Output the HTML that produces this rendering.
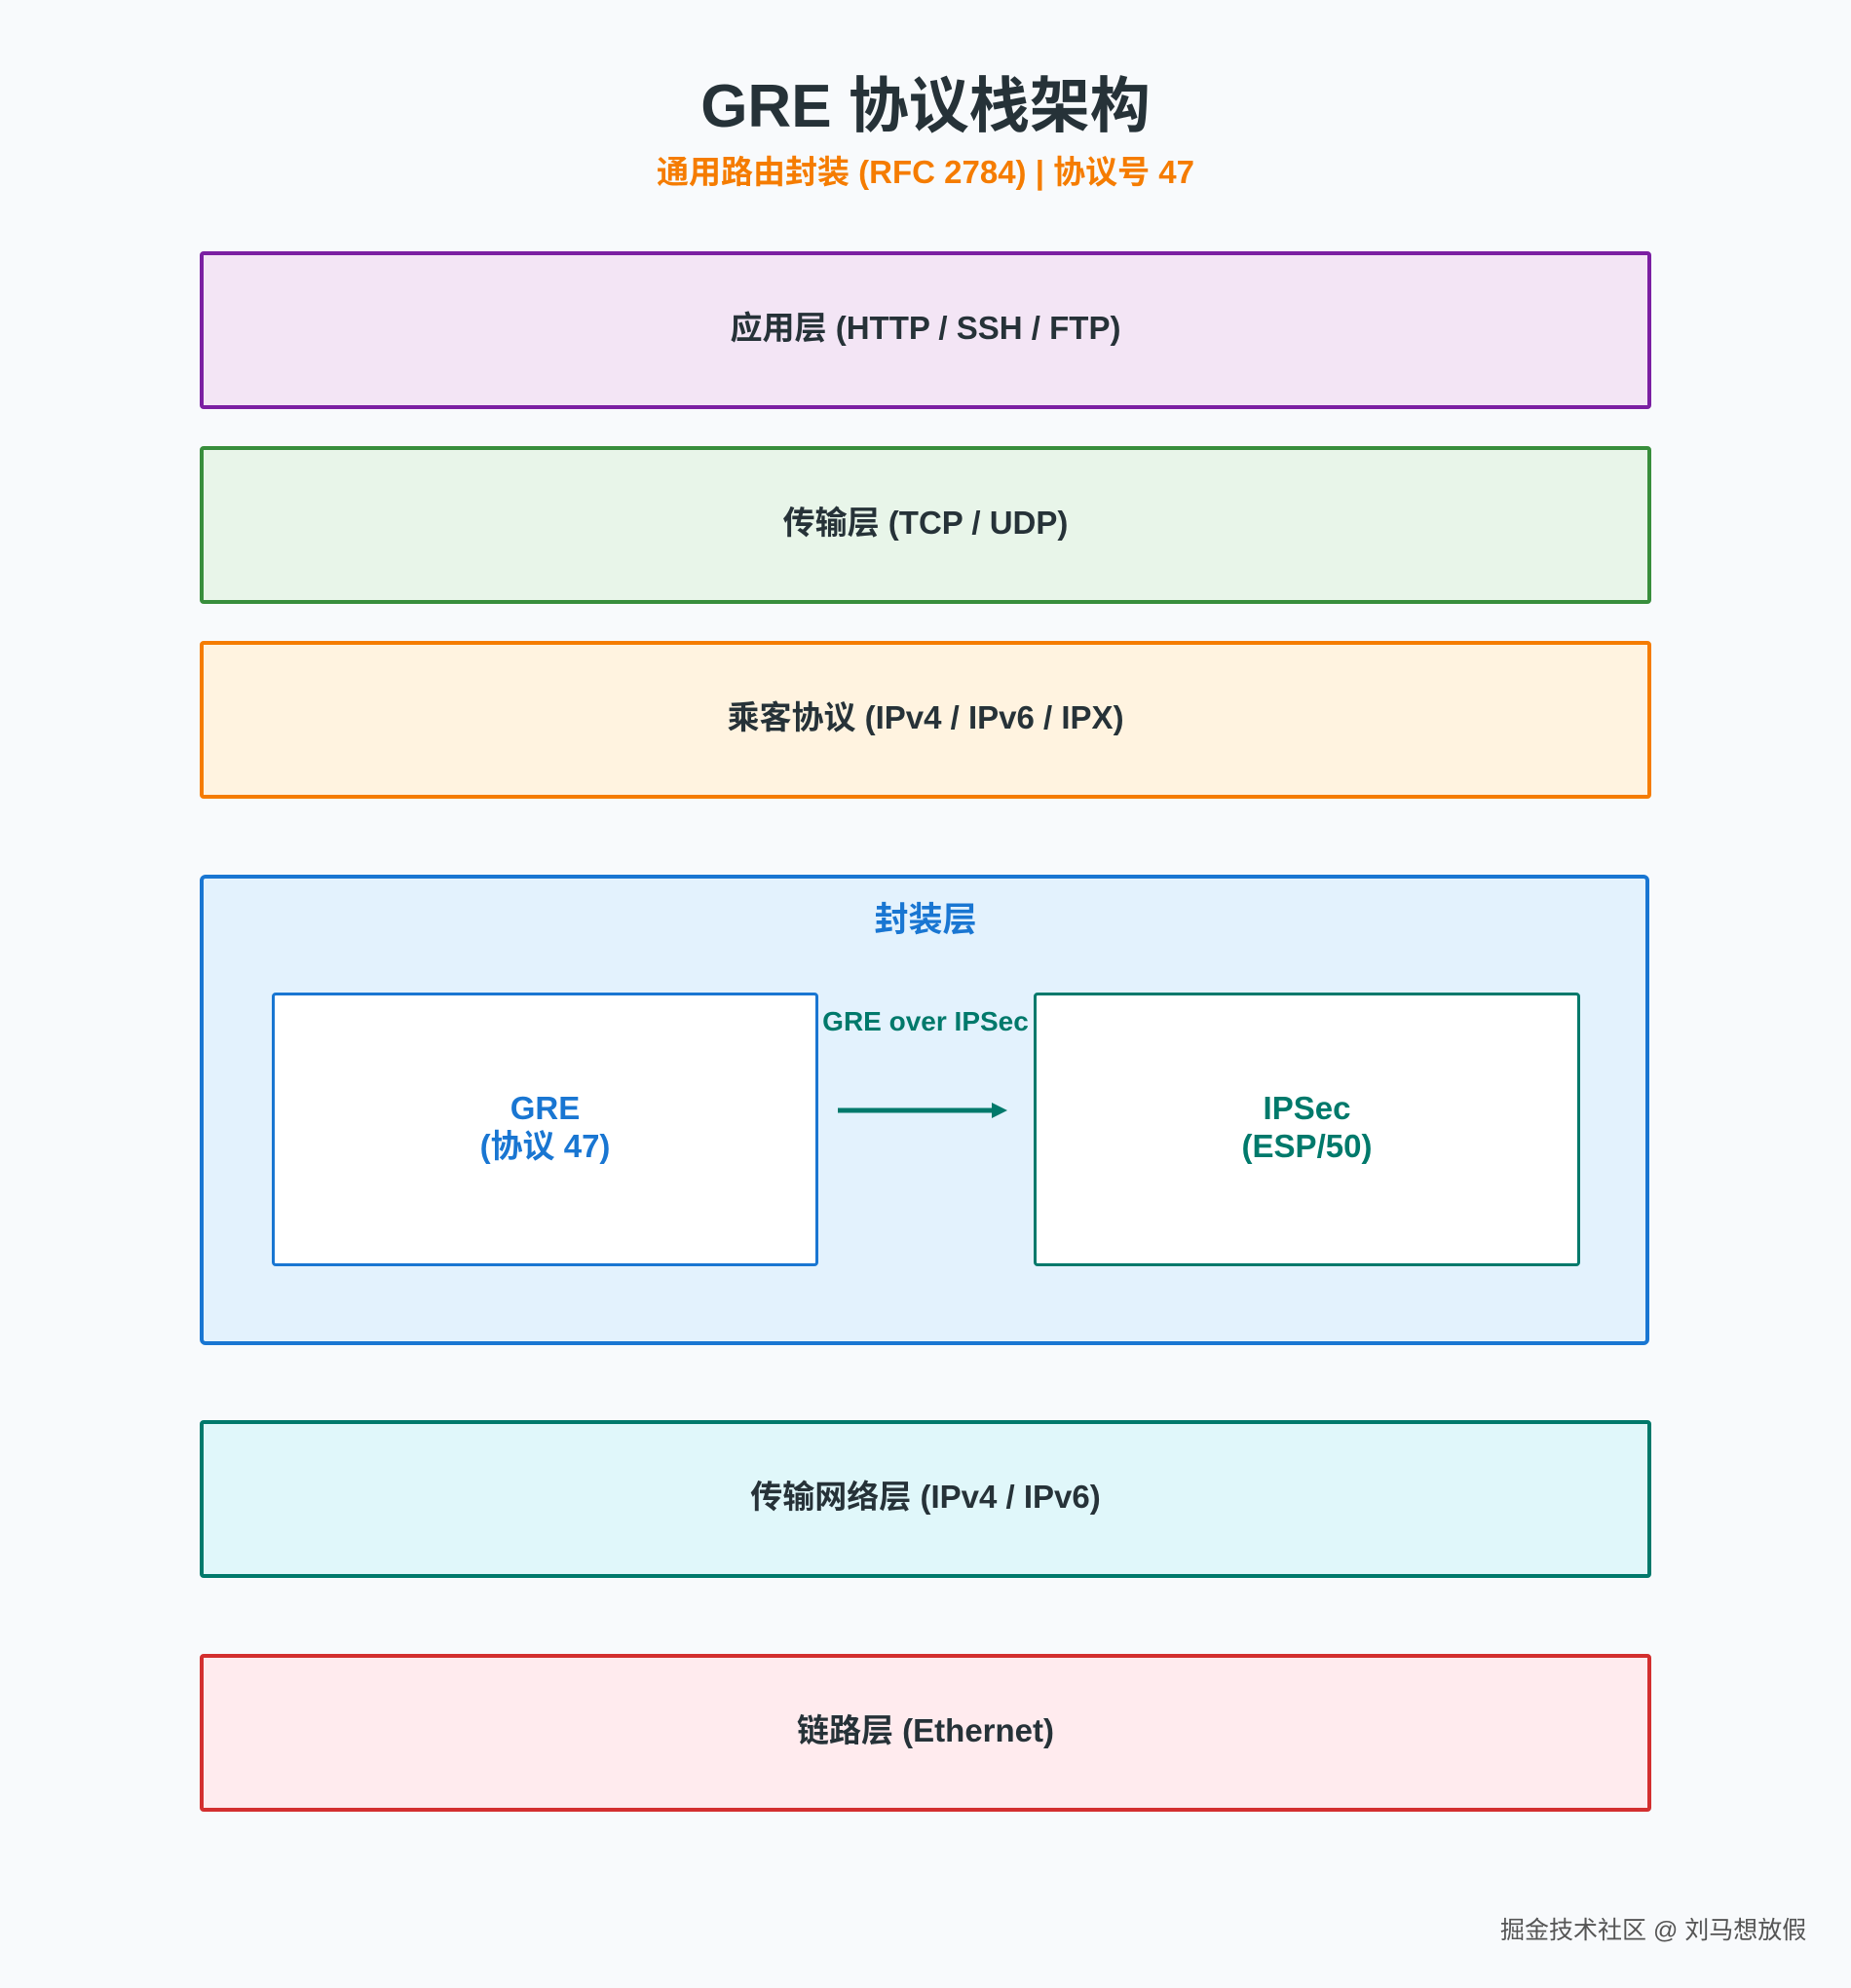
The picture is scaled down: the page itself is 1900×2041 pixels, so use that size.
<!DOCTYPE html>
<html><head><meta charset="utf-8"><style>
body{margin:0;width:1900px;height:2041px;background:#f8fafc;font-family:"Liberation Sans","Noto Sans CJK SC",sans-serif;position:relative;overflow:hidden}
.t{position:absolute;left:0;width:1900px;text-align:center;font-weight:bold}
.b{position:absolute;left:205px;width:1482px;height:154px;border:4px solid;border-radius:4px;display:flex;align-items:center;justify-content:center;font-weight:bold;font-size:33px;color:#263238;box-sizing:content-box;padding-bottom:0}
.b span{position:relative;top:-5px}
</style></head><body>
<div class="t" style="top:58px;font-size:62px;color:#263238">GRE 协议栈架构</div>
<div class="t" style="top:150px;font-size:33px;color:#f57c00">通用路由封装 (RFC 2784) | 协议号 47</div>
<div class="b" style="top:258px;border-color:#7b1fa2;background:#f3e5f5"><span>应用层 (HTTP / SSH / FTP)</span></div>
<div class="b" style="top:458px;border-color:#388e3c;background:#e8f5e9"><span>传输层 (TCP / UDP)</span></div>
<div class="b" style="top:658px;border-color:#f57c00;background:#fff3e0"><span>乘客协议 (IPv4 / IPv6 / IPX)</span></div>
<div style="position:absolute;left:205px;top:898px;width:1480px;height:475px;border:4px solid #1976d2;border-radius:6px;background:#e3f2fd"></div>
<div class="t" style="top:916px;font-size:35px;color:#1976d2">封装层</div>
<div style="position:absolute;left:279px;top:1019px;width:555px;height:275px;border:3px solid #1976d2;border-radius:4px;background:#fff;display:flex;align-items:center;justify-content:center;text-align:center;font-weight:bold;font-size:33px;color:#1976d2;line-height:39px"><span style="position:relative;top:-3px">GRE<br>(协议 47)</span></div>
<div style="position:absolute;left:1061px;top:1019px;width:555px;height:275px;border:3px solid #00796b;border-radius:4px;background:#fff;display:flex;align-items:center;justify-content:center;text-align:center;font-weight:bold;font-size:33px;color:#00796b;line-height:39px"><span style="position:relative;top:-3px">IPSec<br>(ESP/50)</span></div>
<div style="position:absolute;left:800px;top:1033px;width:300px;text-align:center;font-weight:bold;font-size:28px;color:#00796b;white-space:nowrap">GRE over IPSec</div>
<svg style="position:absolute;left:0;top:0" width="1900" height="2041"><line x1="860" y1="1140" x2="1026" y2="1140" stroke="#00796b" stroke-width="5"/><path d="M1018 1132 L1034 1140 L1018 1148 Z" fill="#00796b"/></svg>
<div class="b" style="top:1458px;border-color:#00796b;background:#e0f7fa"><span>传输网络层 (IPv4 / IPv6)</span></div>
<div class="b" style="top:1698px;border-color:#d32f2f;background:#ffebee"><span>链路层 (Ethernet)</span></div>
<div style="position:absolute;left:1540px;top:1962px;font-size:25px;color:#555">掘金技术社区 @ 刘马想放假</div>
</body></html>
